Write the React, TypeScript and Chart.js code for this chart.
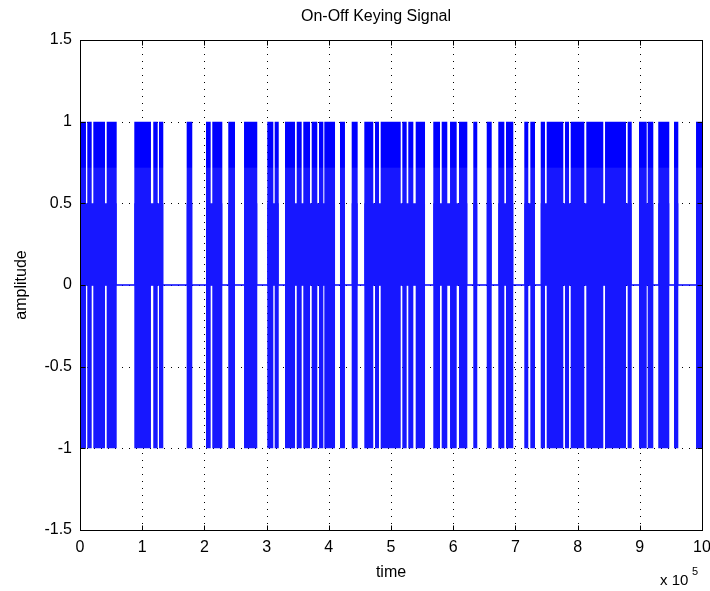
import React, { useEffect, useRef } from 'react';
import { Chart, registerables } from 'chart.js';

Chart.register(...registerables);

const TITLE = 'On-Off Keying Signal';
const X_LABEL = 'time';
const Y_LABEL = 'amplitude';
const X_EXPONENT_BASE = 'x 10';
const X_EXPONENT = '5';
const X_TICKS = [0, 1, 2, 3, 4, 5, 6, 7, 8, 9, 10];
const Y_TICKS = [-1.5, -1, -0.5, 0, 0.5, 1, 1.5];

// On (carrier present) intervals, time in units of 10^5
const ON_START = [
  0.016, 0.117, 0.214, 0.429, 0.873, 1.178, 1.27, 1.715, 2.026, 2.127,
  2.384, 2.637, 3.011, 3.13, 3.296, 3.484, 3.59, 3.725, 3.842, 3.928,
  4.18, 4.368, 4.571, 4.743, 4.834, 5.182, 5.278, 5.397, 5.68, 5.815,
  5.949, 6.093, 6.323, 6.539, 6.725, 6.849, 7.143, 7.24, 7.407, 7.503,
  7.797, 7.889, 8.14, 8.441, 8.805, 8.987, 9.127, 9.297, 9.55, 9.904,
];
const ON_END = [
  0.096, 0.188, 0.402, 0.59, 1.141, 1.249, 1.339, 1.805, 2.101, 2.288,
  2.492, 2.85, 3.108, 3.195, 3.457, 3.564, 3.698, 3.815, 3.912, 4.1,
  4.26, 4.464, 4.715, 4.807, 5.156, 5.252, 5.359, 5.547, 5.788, 5.905,
  6.056, 6.227, 6.387, 6.619, 6.822, 6.966, 7.207, 7.315, 7.476, 7.77,
  7.862, 8.108, 8.413, 8.778, 8.87, 9.111, 9.217, 9.474, 9.619, 10.0,
];
const PEAK = 1;
const TROUGH = -1;
const MID_LEVEL = 0.5;
const X_MIN = 0;
const X_MAX = 10;

const BLUE = '#0000ff';
const BLUE_LIGHT = '#1717ff';
const FONT = '"Liberation Sans", Arial, Helvetica, sans-serif';

function blockPoints(starts: number[], ends: number[], level: number) {
  const pts: { x: number; y: number }[] = [{ x: X_MIN, y: 0 }];
  for (let i = 0; i < starts.length; i++) {
    pts.push({ x: starts[i], y: 0 }, { x: starts[i], y: level }, { x: ends[i], y: level }, { x: ends[i], y: 0 });
  }
  pts.push({ x: X_MAX, y: 0 });
  return pts;
}

function mergedRuns(starts: number[], ends: number[]) {
  const s: number[] = [];
  const e: number[] = [];
  for (let i = 0; i < starts.length; i++) {
    if (e.length && starts[i] - e[e.length - 1] < 0.05) e[e.length - 1] = ends[i];
    else {
      s.push(starts[i]);
      e.push(ends[i]);
    }
  }
  return { s, e };
}

const fillColor = (c: any) => {
  const chart = c.chart;
  const { chartArea, scales } = chart;
  if (!chartArea || !scales.y) return BLUE;
  const yTop = scales.y.getPixelForValue(1);
  const yBot = scales.y.getPixelForValue(-1);
  const yEdge = scales.y.getPixelForValue(0.72);
  const g = chart.ctx.createLinearGradient(0, yTop, 0, yBot);
  const f = (yEdge - yTop) / (yBot - yTop);
  g.addColorStop(0, BLUE);
  g.addColorStop(f, BLUE);
  g.addColorStop(Math.min(1, f + 0.001), BLUE_LIGHT);
  g.addColorStop(1, BLUE_LIGHT);
  return g;
};

const gridPlugin = {
  id: 'matlabGrid',
  beforeDatasetsDraw(chart: any) {
    const { ctx, chartArea: a, scales } = chart;
    ctx.save();
    ctx.strokeStyle = '#000';
    ctx.lineWidth = 1;
    ctx.setLineDash([1, 6]);
    X_TICKS.forEach((v) => {
      if (v === X_MIN || v === X_MAX) return;
      const x = Math.round(scales.x.getPixelForValue(v)) + 0.5;
      ctx.beginPath();
      ctx.moveTo(x, a.top);
      ctx.lineTo(x, a.bottom);
      ctx.stroke();
    });
    Y_TICKS.forEach((v) => {
      if (v === Y_TICKS[0] || v === Y_TICKS[Y_TICKS.length - 1]) return;
      const y = Math.round(scales.y.getPixelForValue(v)) + 0.5;
      ctx.beginPath();
      ctx.moveTo(a.left, y);
      ctx.lineTo(a.right, y);
      ctx.stroke();
    });
    ctx.restore();
  },
  afterDatasetsDraw(chart: any) {
    const { ctx, chartArea: a, scales } = chart;
    ctx.save();
    ctx.strokeStyle = '#000';
    ctx.lineWidth = 1;
    ctx.setLineDash([]);
    const L = Math.round(a.left) + 0.5;
    const R = Math.round(a.right) + 0.5;
    const T = Math.round(a.top) + 0.5;
    const B = Math.round(a.bottom) + 0.5;
    ctx.strokeRect(L, T, R - L, B - T);
    const tl = 5;
    ctx.beginPath();
    X_TICKS.forEach((v) => {
      const x = Math.round(scales.x.getPixelForValue(v)) + 0.5;
      ctx.moveTo(x, B);
      ctx.lineTo(x, B - tl);
      ctx.moveTo(x, T);
      ctx.lineTo(x, T + tl);
    });
    Y_TICKS.forEach((v) => {
      const y = Math.round(scales.y.getPixelForValue(v)) + 0.5;
      ctx.moveTo(L, y);
      ctx.lineTo(L + tl, y);
      ctx.moveTo(R, y);
      ctx.lineTo(R - tl, y);
    });
    ctx.stroke();
    ctx.restore();
  },
  afterDraw(chart: any) {
    const { ctx, chartArea: a } = chart;
    ctx.save();
    ctx.fillStyle = '#000';
    ctx.textBaseline = 'middle';
    ctx.textAlign = 'center';
    ctx.font = `16px ${FONT}`;
    ctx.fillText(TITLE, 376, 17);
    ctx.textAlign = 'left';
    ctx.font = `15px ${FONT}`;
    ctx.fillText(X_EXPONENT_BASE, a.right - 42, 581);
    ctx.font = `11px ${FONT}`;
    ctx.fillText(X_EXPONENT, a.right - 10, 572);
    ctx.restore();
  },
};

export default function App() {
  const ref = useRef<HTMLCanvasElement | null>(null);
  useEffect(() => {
    if (!ref.current) return;
    const runs = mergedRuns(ON_START, ON_END);
    const chart = new Chart(ref.current, {
      type: 'line',
      data: {
        datasets: [
          {
            label: 'upper',
            data: blockPoints(ON_START, ON_END, PEAK),
            borderColor: 'transparent',
            borderWidth: 0,
            backgroundColor: fillColor,
            fill: 'origin',
            pointRadius: 0,
            tension: 0,
          },
          {
            label: 'lower',
            data: blockPoints(ON_START, ON_END, TROUGH),
            borderColor: 'transparent',
            borderWidth: 0,
            backgroundColor: BLUE_LIGHT,
            fill: 'origin',
            pointRadius: 0,
            tension: 0,
          },
          {
            label: 'mid',
            data: blockPoints(runs.s, runs.e, MID_LEVEL),
            borderColor: 'transparent',
            borderWidth: 0,
            backgroundColor: BLUE_LIGHT,
            fill: 'origin',
            pointRadius: 0,
            tension: 0,
          },
          {
            label: 'baseline',
            data: [
              { x: X_MIN, y: 0 },
              { x: X_MAX, y: 0 },
            ],
            borderColor: BLUE,
            borderWidth: 1.5,
            fill: false,
            pointRadius: 0,
          },
        ],
      },
      options: {
        animation: false,
        responsive: false,
        events: [],
        layout: { padding: { top: 40, right: 8, left: 0, bottom: 0 } },
        plugins: {
          legend: { display: false },
          tooltip: { enabled: false },
          title: { display: false },
        },
        scales: {
          x: {
            type: 'linear',
            min: X_MIN,
            max: X_MAX,
            afterBuildTicks: (s: any) => {
              s.ticks = X_TICKS.map((v) => ({ value: v }));
            },
            afterFit: (s: any) => {
              s.height = 61;
              s.paddingLeft = 0;
              s.paddingRight = 0;
            },
            grid: { display: false, drawTicks: false },
            border: { display: false },
            ticks: { color: '#000', font: { size: 16, family: FONT }, padding: 8, maxRotation: 0, autoSkip: false, callback: (v: any) => String(v) },
            title: { display: true, text: X_LABEL, color: '#000', font: { size: 16, family: FONT }, padding: { top: 0, bottom: 9 } },
          },
          y: {
            type: 'linear',
            min: -1.5,
            max: 1.5,
            afterBuildTicks: (s: any) => {
              s.ticks = Y_TICKS.map((v) => ({ value: v }));
            },
            afterFit: (s: any) => {
              s.width = 80;
              s.paddingTop = 0;
              s.paddingBottom = 0;
            },
            grid: { display: false, drawTicks: false },
            border: { display: false },
            ticks: { color: '#000', font: { size: 16, family: FONT }, padding: 8, callback: (v: any) => String(v) },
            title: { display: true, text: Y_LABEL, color: '#000', font: { size: 16, family: FONT }, padding: { top: 12, bottom: 0 } },
          },
        },
      },
      plugins: [gridPlugin],
    } as any);
    return () => chart.destroy();
  }, []);
  return (
    <div style={{ position: 'absolute', left: 0, top: 0, width: 710, height: 591, background: '#fff' }}>
      <canvas ref={ref} width={710} height={591} style={{ display: 'block' }} />
    </div>
  );
}
